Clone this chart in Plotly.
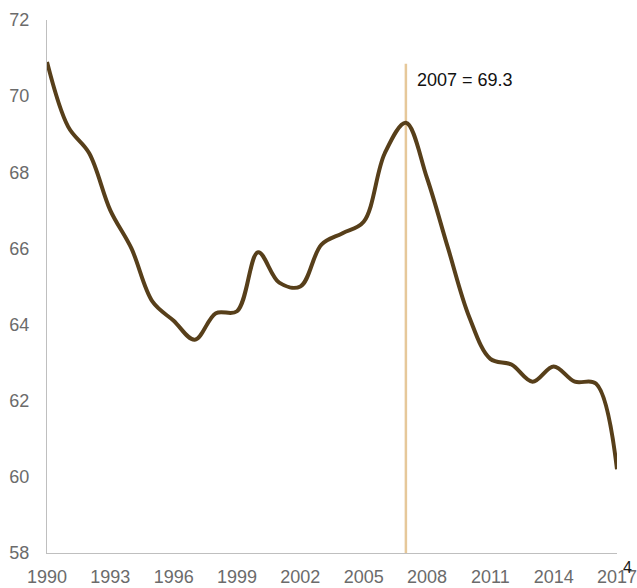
import plotly.graph_objects as go

years = list(range(1990, 2018))
values = [70.9, 69.2, 68.5, 67.0, 66.0, 64.6, 64.1, 63.6, 64.3, 64.35, 65.9, 65.1,
          65.0, 66.1, 66.4, 66.7, 68.5, 69.3, 67.85, 66.0, 64.2, 63.1, 62.95, 62.5,
          62.9, 62.5, 62.45, 60.2]
x_ticks = list(range(1990, 2018, 3))
y_ticks = list(range(58, 73, 2))
highlight_year = 2007
highlight_value = 69.3

fig = go.Figure()
fig.add_trace(go.Scatter(
    x=years, y=values, mode="lines",
    line=dict(color="#573f1a", width=4, shape="spline", smoothing=1.0),
    hoverinfo="x+y", showlegend=False,
))
fig.add_shape(type="line", xref="x", yref="y",
              x0=highlight_year, x1=highlight_year, y0=58, y1=70.85,
              line=dict(color="#e6c89a", width=2.5), layer="below")
fig.add_annotation(x=highlight_year, y=70.42, xref="x", yref="y",
                   text=f"{highlight_year} = {highlight_value}", showarrow=False,
                   xanchor="left", xshift=9,
                   font=dict(size=18, color="#111111", family="Liberation Sans, Arial"))
fig.add_annotation(x=1.0, y=0, xref="paper", yref="paper", text="4", showarrow=False,
                   xanchor="left", yanchor="top", xshift=4, yshift=-4,
                   font=dict(size=16, color="#1a1a1a", family="Liberation Sans, Arial"))

fig.update_layout(
    width=637, height=588,
    margin=dict(l=47, r=20, t=20, b=35),
    paper_bgcolor="white", plot_bgcolor="white",
    font=dict(family="Liberation Sans, Arial", size=18, color="#6b6b6b"),
    xaxis=dict(range=[1990, 2017], tickvals=x_ticks, showgrid=False, zeroline=False,
               showline=True, linecolor="#bfbfbf", linewidth=1, ticks="",
               automargin=False, ticklabeloverflow="allow",
               tickfont=dict(size=18, color="#6b6b6b"), ticklabelstandoff=7),
    yaxis=dict(range=[58, 72], tickvals=y_ticks, showgrid=False, zeroline=False,
               showline=True, linecolor="#bfbfbf", linewidth=1, ticks="",
               automargin=False, ticklabeloverflow="allow",
               tickfont=dict(size=18, color="#6b6b6b"), ticklabelstandoff=13),
)
fig.write_html("out.html", config={"displayModeBar": False},
               post_script="document.body.style.margin='0';document.body.style.overflow='hidden';")
